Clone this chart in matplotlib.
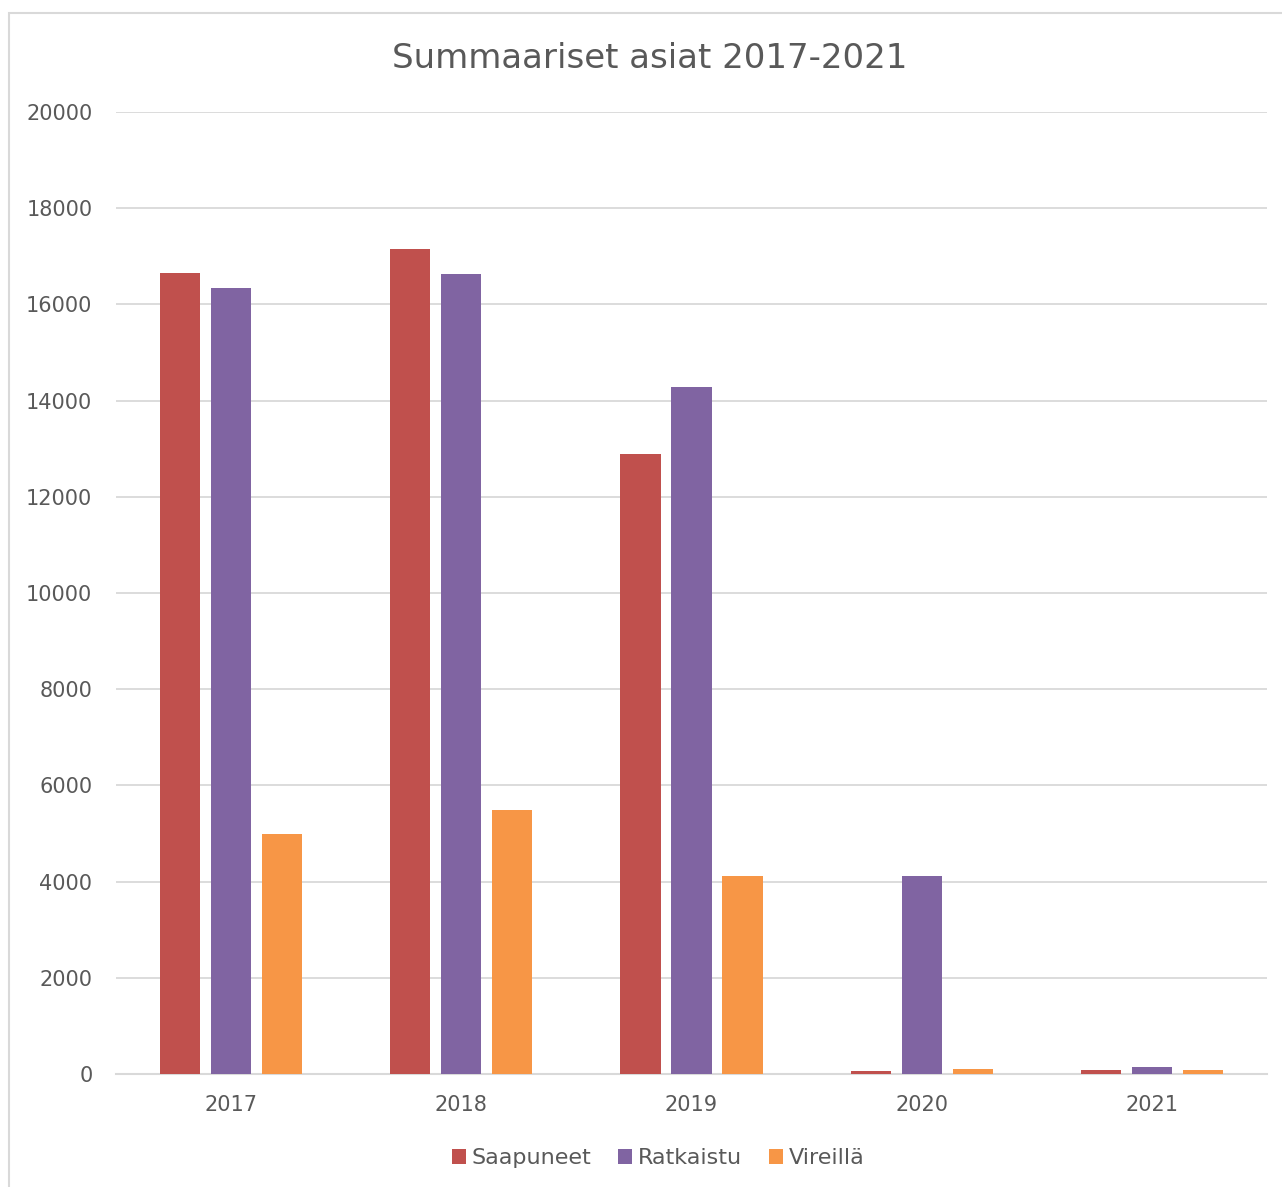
import numpy as np
import matplotlib.pyplot as plt
from matplotlib.patches import Rectangle

years = ['2017', '2018', '2019', '2020', '2021']
series_names = ['Saapuneet', 'Ratkaistu', 'Vireillä']
saapuneet = [16650, 17150, 12890, 60, 85]
ratkaistu = [16340, 16630, 14280, 4120, 140]
vireilla = [4990, 5490, 4120, 100, 75]
yticks = [0, 2000, 4000, 6000, 8000, 10000, 12000, 14000, 16000, 18000, 20000]

colors = ['#c0504d', '#8064a2', '#f79646']
text_color = '#595959'
grid_color = '#d9d9d9'

plt.rcParams['font.family'] = ['DejaVu Sans']

W, H = 1282, 1187
fig = plt.figure(figsize=(W / 100, H / 100), dpi=100)
ax = fig.add_axes([116 / W, 1 - 1074 / H, (1267 - 116) / W, (1074 - 112) / H])

# outer chart border (cropped at right and bottom)
fig.patches.append(Rectangle((9 / W, -0.01), 1.02, 1 - 13 / H + 0.01,
                             transform=fig.transFigure, fill=False,
                             edgecolor=grid_color, linewidth=1.5))

x = np.arange(len(years))
bw = 0.174
step = 0.2216
for i, (vals, name) in enumerate(zip([saapuneet, ratkaistu, vireilla], series_names)):
    ax.bar(x + (i - 1) * step, vals, width=bw, color=colors[i], label=name, zorder=3)

ax.set_xlim(-0.5, len(years) - 0.5)
ax.set_ylim(0, 20000)
ax.set_yticks(yticks)
ax.set_yticklabels([str(v) for v in yticks])
ax.set_xticks(x)
ax.set_xticklabels(years)
ax.tick_params(axis='both', length=0, labelsize=15, colors=text_color)
ax.tick_params(axis='y', pad=17)
ax.tick_params(axis='x', pad=15)

ax.grid(axis='y', color=grid_color, linewidth=1.3, zorder=0)
for s in ['top', 'right', 'left']:
    ax.spines[s].set_visible(False)
ax.spines['bottom'].set_color(grid_color)
ax.spines['bottom'].set_linewidth(1.5)

fig.text(650 / W, 1 - 58 / H, 'Summaariset asiat 2017-2021', ha='center', va='center',
         fontsize=24.5, color=text_color)

leg = fig.legend(loc='center', bbox_to_anchor=(658 / W, 1 - 1158 / H), ncol=3,
                 frameon=False, fontsize=16, handlelength=0.65, handleheight=0.65,
                 handletextpad=0.25, columnspacing=1.2)
for t in leg.get_texts():
    t.set_color(text_color)

fig.savefig('out.png', dpi=100)
